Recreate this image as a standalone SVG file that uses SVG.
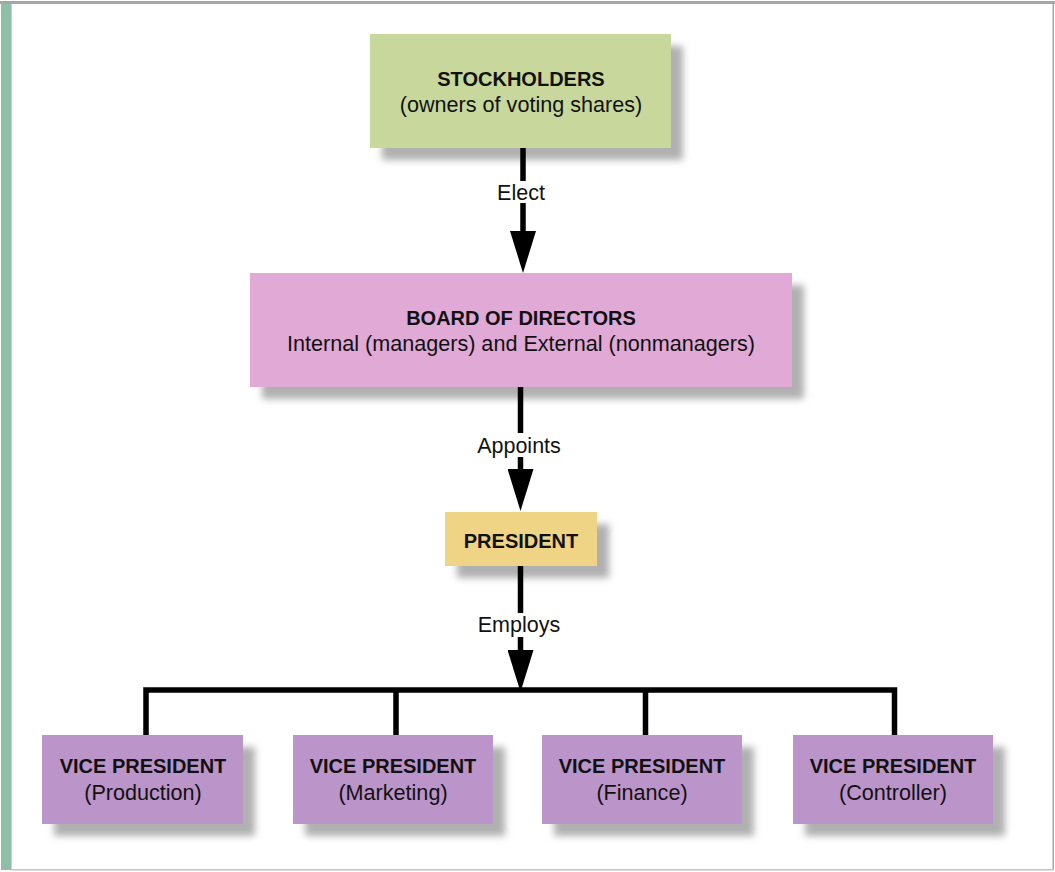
<svg xmlns="http://www.w3.org/2000/svg" width="1055" height="872" viewBox="0 0 1055 872">
<style>
  text { font-family: "Liberation Sans", Arial, sans-serif; fill: #111; text-anchor: middle; }
  .b { font-weight: bold; font-size: 20px; }
  .r { font-size: 21.6px; }
  .lbl { font-size: 21.5px; }
  .shadow { fill: #b0b0b0; filter: url(#blur); }
  .conn { stroke: #000; stroke-width: 5.5; fill: none; }
  .green { fill: #c8d89c; }
  .pink { fill: #e0a9d6; }
  .yellow { fill: #f0d486; }
  .purple { fill: #bb94c9; }
</style>
<defs>
  <filter id="blur" x="-20%" y="-40%" width="140%" height="180%">
    <feGaussianBlur stdDeviation="3.5"/>
  </filter>
  <marker id="ah" viewBox="0 0 42 26" refX="1" refY="13" markerWidth="42" markerHeight="26" markerUnits="userSpaceOnUse" orient="auto">
    <path d="M0,0 L42,13 L0,26 Z" fill="#000"/>
  </marker>
</defs>
<rect x="0" y="0" width="1055" height="872" fill="#fff"/>
<g id="frame">
  <rect x="0" y="1" width="1055" height="3" fill="#a6a6a6"/>
  <rect x="1" y="4" width="10" height="866" fill="#8fbfa8"/>
  <rect x="11" y="4" width="1" height="866" fill="#bcdccb"/>
  <rect x="1052.5" y="4" width="1.5" height="866" fill="#a6a6a6"/>
  <rect x="11" y="869" width="1043" height="1.5" fill="#c4c4c4"/>
</g>
<g id="stockholders">
  <rect class="shadow" x="382" y="46" width="301" height="114"/>
  <rect class="green" x="370" y="34" width="301" height="114"/>
  <text class="b" x="521" y="86">STOCKHOLDERS</text>
  <text class="r" x="521" y="112">(owners of voting shares)</text>
</g>
<g id="board">
  <rect class="shadow" x="262" y="285" width="542" height="114"/>
  <rect class="pink" x="250" y="273" width="542" height="114"/>
  <text class="b" x="521" y="325">BOARD OF DIRECTORS</text>
  <text class="r" x="521" y="351">Internal (managers) and External (nonmanagers)</text>
</g>
<g id="president">
  <rect class="shadow" x="457" y="524" width="152" height="54"/>
  <rect class="yellow" x="445" y="512" width="152" height="54"/>
  <text class="b" x="521" y="548">PRESIDENT</text>
</g>
<g id="vp-production">
  <rect class="shadow" x="54" y="747" width="201" height="89"/>
  <rect class="purple" x="42" y="735" width="201" height="89"/>
  <text class="b" x="143" y="773">VICE PRESIDENT</text>
  <text class="r" x="143" y="800">(Production)</text>
</g>
<g id="vp-marketing">
  <rect class="shadow" x="305" y="747" width="200" height="89"/>
  <rect class="purple" x="293" y="735" width="200" height="89"/>
  <text class="b" x="393" y="773">VICE PRESIDENT</text>
  <text class="r" x="393" y="800">(Marketing)</text>
</g>
<g id="vp-finance">
  <rect class="shadow" x="554" y="747" width="200" height="89"/>
  <rect class="purple" x="542" y="735" width="200" height="89"/>
  <text class="b" x="642" y="773">VICE PRESIDENT</text>
  <text class="r" x="642" y="800">(Finance)</text>
</g>
<g id="vp-controller">
  <rect class="shadow" x="805" y="747" width="200" height="89"/>
  <rect class="purple" x="793" y="735" width="200" height="89"/>
  <text class="b" x="893" y="773">VICE PRESIDENT</text>
  <text class="r" x="893" y="800">(Controller)</text>
</g>
<g id="connectors">
  <path class="conn" d="M523,148 V181"/>
  <path class="conn" d="M523,203 V232" marker-end="url(#ah)"/>
  <path class="conn" d="M520.5,387 V433"/>
  <path class="conn" d="M520.5,457 V470" marker-end="url(#ah)"/>
  <path class="conn" d="M520.5,566 V613"/>
  <path class="conn" d="M520.5,637 V651" marker-end="url(#ah)"/>
  <path class="conn" d="M146,735 V690 H894.5 V735"/>
  <path class="conn" d="M396,690 V735"/>
  <path class="conn" d="M645.5,690 V735"/>
  <text class="lbl" x="521" y="200">Elect</text>
  <text class="lbl" x="519" y="453">Appoints</text>
  <text class="lbl" x="519" y="632">Employs</text>
</g>
</svg>
